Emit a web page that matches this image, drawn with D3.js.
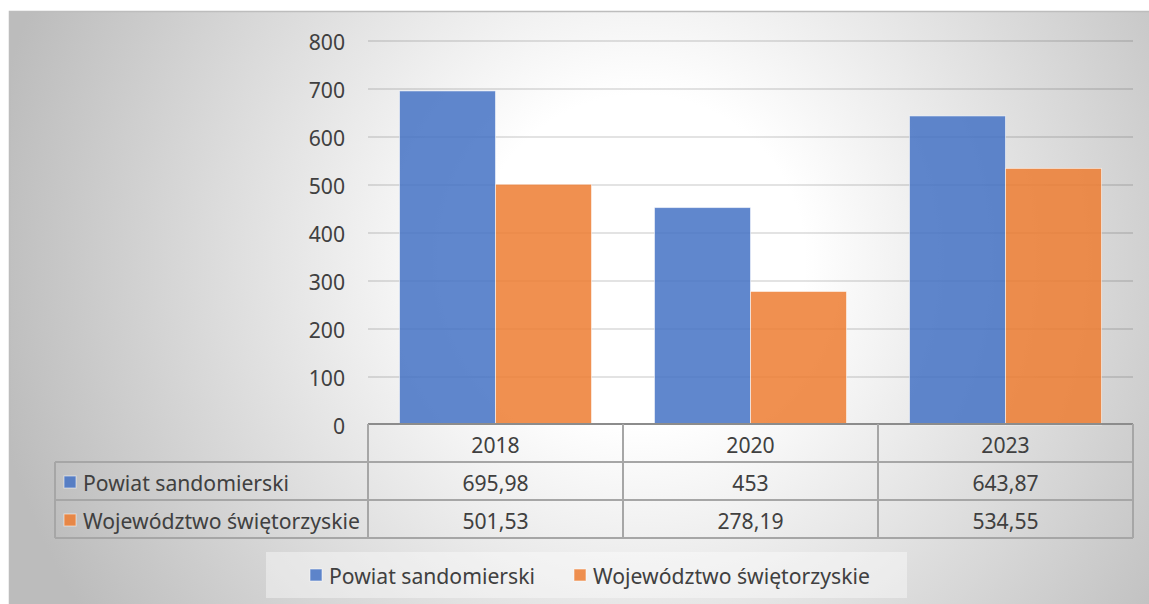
<!DOCTYPE html>
<html lang="pl">
<head>
<meta charset="utf-8">
<title>Powiat sandomierski vs Województwo</title>
<script src="https://cdn.jsdelivr.net/npm/d3@7"></script>
<style>
  html, body { margin: 0; padding: 0; background: #fff; }
  svg { display: block; }
  text { font-family: "Noto Sans", "Open Sans", sans-serif; fill: #404040; }
</style>
</head>
<body>
<script>
// data
var years = ["2018", "2020", "2023"];
var seriesNames = ["Powiat sandomierski", "Województwo świętorzyskie"];
var powiat = [695.98, 453, 643.87];
var wojewodztwo = [501.53, 278.19, 534.55];
var yTicks = [0, 100, 200, 300, 400, 500, 600, 700, 800];
var colors = ["#4472C4", "#ED7D31"];

var W = 1149, H = 604;
var plot = { left: 368, right: 1133, top: 41, bottom: 425 };
var tableLeft = 55;
var rowH = 38;

var svg = d3.select("body").append("svg").attr("width", W).attr("height", H);

// fit the font to the width seen in the picture
var probe = svg.append("text").style("font-size", "20px").text(seriesNames[1]);
var fs = 20 * 277 / probe.node().getComputedTextLength();
probe.remove();

// background
var defs = svg.append("defs");
var grad = defs.append("radialGradient").attr("id", "bg")
  .attr("gradientUnits", "userSpaceOnUse")
  .attr("cx", 640).attr("cy", 260).attr("r", 660);
grad.append("stop").attr("offset", "0.25").attr("stop-color", "#ffffff");
grad.append("stop").attr("offset", "1").attr("stop-color", "#bcbcbc");

svg.append("rect").attr("x", 9).attr("y", 11).attr("width", W - 9).attr("height", H - 11)
  .attr("fill", "url(#bg)");
svg.append("path").attr("d", "M9.5," + H + "V11.5H" + W)
  .attr("fill", "none").attr("stroke", "#bdbdbd").attr("stroke-width", 1.5);

// scales
var x0 = d3.scaleBand().domain(years).range([plot.left, plot.right]).padding(0);
var x1 = d3.scaleBand().domain([0, 1]).range([0, x0.bandwidth()]).paddingInner(0).paddingOuter(0.328);
var y = d3.scaleLinear().domain([0, 800]).range([plot.bottom, plot.top]);

// gridlines
svg.append("g").selectAll("line").data(yTicks.filter(function(d) { return d > 0; })).enter()
  .append("line")
  .attr("x1", plot.left).attr("x2", plot.right)
  .attr("y1", function(d) { return y(d); }).attr("y2", function(d) { return y(d); })
  .attr("stroke", "rgba(0,0,0,0.15)").attr("stroke-width", 1.5);

// y labels
svg.append("g").selectAll("text").data(yTicks).enter()
  .append("text")
  .attr("x", 345).attr("y", function(d) { return y(d); })
  .attr("text-anchor", "end").attr("dominant-baseline", "central")
  .style("font-size", fs + "px")
  .text(function(d) { return d; });

// bars
var series = [powiat, wojewodztwo];
var groups = svg.append("g").selectAll("g").data(series).enter().append("g");
groups.selectAll("rect").data(function(s, si) { return s.map(function(v, i) { return { v: v, i: i, s: si }; }); })
  .enter().append("rect")
  .attr("x", function(d) { return x0(years[d.i]) + x1(d.s); })
  .attr("width", x1.bandwidth())
  .attr("y", function(d) { return y(d.v); })
  .attr("height", function(d) { return y(0) - y(d.v); })
  .attr("fill", function(d) { return colors[d.s]; })
  .attr("fill-opacity", 0.85)
  .attr("stroke", "rgba(255,255,255,0.55)").attr("stroke-width", 1);

// data table
var fmt = function(v) { return String(v).replace(".", ","); };
var tbl = svg.append("g");
var lineColor = "#a6a6a6";
var tTop = plot.bottom - 1;
// horizontal lines
tbl.append("line").attr("x1", plot.left).attr("x2", plot.right).attr("y1", tTop).attr("y2", tTop)
  .attr("stroke", "#8c8c8c").attr("stroke-width", 2);
[1, 2, 3].forEach(function(r) {
  tbl.append("line").attr("x1", tableLeft).attr("x2", plot.right)
    .attr("y1", tTop + r * rowH).attr("y2", tTop + r * rowH)
    .attr("stroke", lineColor).attr("stroke-width", 2);
});
// vertical lines
tbl.append("line").attr("x1", tableLeft).attr("x2", tableLeft).attr("y1", tTop + rowH).attr("y2", tTop + 3 * rowH)
  .attr("stroke", lineColor).attr("stroke-width", 2);
years.forEach(function(yr) {
  tbl.append("line").attr("x1", x0(yr)).attr("x2", x0(yr)).attr("y1", tTop).attr("y2", tTop + 3 * rowH)
    .attr("stroke", lineColor).attr("stroke-width", 2);
});
tbl.append("line").attr("x1", plot.right).attr("x2", plot.right).attr("y1", tTop).attr("y2", tTop + 3 * rowH)
  .attr("stroke", lineColor).attr("stroke-width", 2);

// header
tbl.selectAll("text.yr").data(years).enter().append("text").attr("class", "yr")
  .attr("x", function(d) { return x0(d) + x0.bandwidth() / 2; })
  .attr("y", tTop + rowH / 2 + 1)
  .attr("text-anchor", "middle").attr("dominant-baseline", "central")
  .style("font-size", fs + "px")
  .text(function(d) { return d; });

series.forEach(function(s, si) {
  var cy = tTop + rowH * (si + 1) + rowH / 2 + 1;
  tbl.append("rect").attr("x", 64).attr("y", cy - 6).attr("width", 12).attr("height", 12)
    .attr("fill", colors[si]).attr("fill-opacity", 0.85)
    .attr("stroke", "rgba(255,255,255,0.55)").attr("stroke-width", 1);
  tbl.append("text").attr("x", 83).attr("y", cy).attr("dominant-baseline", "central")
    .style("font-size", fs + "px").text(seriesNames[si]);
  tbl.selectAll("text.v" + si).data(s).enter().append("text").attr("class", "v" + si)
    .attr("x", function(d, i) { return x0(years[i]) + x0.bandwidth() / 2; })
    .attr("y", cy)
    .attr("text-anchor", "middle").attr("dominant-baseline", "central")
    .style("font-size", fs + "px")
    .text(fmt);
});

// legend
var lg = svg.append("g");
lg.append("rect").attr("x", 266).attr("y", 552).attr("width", 641).attr("height", 46)
  .attr("fill", "rgba(255,255,255,0.4)");
var legendX = [310, 574];
seriesNames.forEach(function(n, i) {
  lg.append("rect").attr("x", legendX[i]).attr("y", 569).attr("width", 12).attr("height", 12)
    .attr("fill", colors[i]).attr("fill-opacity", 0.85)
    .attr("stroke", "rgba(255,255,255,0.55)").attr("stroke-width", 1);
  lg.append("text").attr("x", legendX[i] + 19).attr("y", 575).attr("dominant-baseline", "central")
    .style("font-size", fs + "px").text(n);
});
</script>
</body>
</html>
